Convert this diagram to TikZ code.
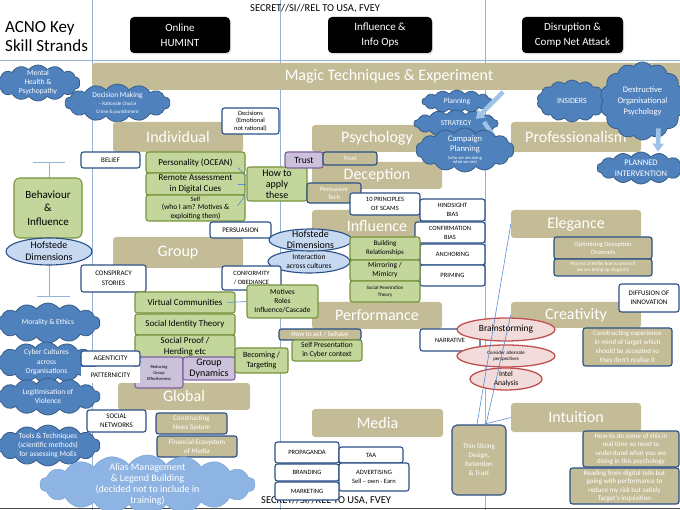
\documentclass[tikz,border=0pt]{standalone}
\usepackage{fontspec}
\setmainfont{Carlito}
\usetikzlibrary{shapes.symbols,shapes.geometric,arrows.meta,shadows}
\definecolor{tan}{HTML}{C4BC96}
\definecolor{dbl}{HTML}{2A4F86}
\definecolor{gfill}{HTML}{C3D69B}
\definecolor{gline}{HTML}{77933C}
\definecolor{pfill}{HTML}{CCC1DA}
\definecolor{pline}{HTML}{7F619E}
\definecolor{cfill}{HTML}{4F81BD}
\definecolor{cline}{HTML}{385D8A}
\definecolor{lcfill}{HTML}{8EB4E3}
\definecolor{lcline}{HTML}{7EA6D8}
\definecolor{efill}{HTML}{C6D9F1}
\definecolor{pkfill}{HTML}{F2DCDB}
\definecolor{pkline}{HTML}{C0504D}
\definecolor{gridc}{HTML}{95B3D7}
\definecolor{connc}{HTML}{5B8BD0}
\definecolor{arrc}{HTML}{9DC3E6}
\newcommand\fsz[2]{\fontsize{#1}{#2}\selectfont}
\newcommand\bx[7]{\node[base,#1,minimum width={((#5)-(#3))*1pt},minimum height={((#6)-(#4))*1pt}] (#2) at ({((#3)+(#5))/2},{((#4)+(#6))/2}) {#7};}
\newcommand\shp[8]{\node[#1,minimum width={((#6)-(#4))*1pt},minimum height={((#7)-(#5))*1pt},inner sep=0pt,label={[align=center,inner sep=0pt,#2]center:{#8}}] (#3) at ({((#4)+(#6))/2},{((#5)+(#7))/2}) {};}
\begin{document}
\begin{tikzpicture}[x=1pt,y=-1pt,
 base/.style={inner sep=0.5pt, align=center, text=black},
 tb/.style={fill=tan, rounded corners=3pt, text=white, font=\fsz{16}{18}},
 kb/.style={fill=tan, draw=dbl, line width=1.1pt, rounded corners=2.5pt, text=white},
 wb/.style={fill=white, draw=dbl, line width=1.1pt, rounded corners=2.5pt},
 gb/.style={fill=gfill, draw=gline, line width=1.1pt, rounded corners=2.5pt},
 pb/.style={fill=pfill, draw=pline, line width=1.1pt, rounded corners=2.5pt},
 hb/.style={fill=black, rounded corners=4pt, text=white, font=\fsz{11}{15}, drop shadow={shadow xshift=1pt,shadow yshift=-1.5pt,opacity=0.25}},
 bc/.style={cloud, cloud puffs=14, cloud puff arc=110, cloud ignores aspect, fill=cfill, draw=cline, line width=0.8pt},
 lc/.style={cloud, cloud puffs=18, cloud puff arc=110, cloud ignores aspect, fill=lcfill, draw=lcline, line width=0.6pt},
 he/.style={ellipse, fill=efill, draw=dbl, line width=1.1pt},
 pk/.style={ellipse, fill=pkfill, draw=pkline, line width=1.3pt},
 gridl/.style={draw=gridc, line width=0.7pt},
 conn/.style={draw=connc, line width=0.6pt},
 barrow/.style={draw=arrc, line width=4.5pt, -{Triangle[length=8pt,width=11pt]}},
 wt/.style={text=white}, bt/.style={text=black}
]
\useasboundingbox (0,0) rectangle (680,510);
% grid lines
\draw[gridl] (92,0) -- (92,510);
\draw[gridl] (280,0) -- (280,510);
\draw[gridl] (485,0) -- (485,510);
\draw[gridl] (0,60) -- (680,60);
\draw[gridl] (33,162) -- (65,162);
\draw[gridl] (49,162) -- (49,296);
\draw[gridl] (37,296) -- (70,296);
\draw[line width=1.2pt, black!70] (0,508.5) -- (680,508.5);
% header
\node[anchor=base west,inner sep=0,font=\fsz{17}{20}] (acnoa) at (5,33) {ACNO Key};
\node[anchor=base west,inner sep=0,font=\fsz{17}{20}] (acnob) at (5,52) {Skill Strands};
\node[anchor=base west,inner sep=0,font=\fsz{10.5}{12}] (sectop) at (250,12) {SECRET//SI//REL TO USA, FVEY};
\node[anchor=base west,inner sep=0,font=\fsz{10.5}{12}] (secbot) at (261,503) {SECRET//SI//REL TO USA, FVEY};
\bx{hb}{hum}{130}{17}{230}{53}{Online\\HUMINT}
\bx{hb}{iops}{328}{17}{432}{53}{Influence \&\\Info Ops}
\bx{hb}{cna}{522}{17}{623}{53}{Disruption \&\\Comp Net Attack}
\bx{tb}{magic}{92}{63}{686}{90}{Magic Techniques \& Experiment}
% left clouds
\shp{bc}{wt,font=\fsz{7.5}{9}}{mental}{-4}{65}{80}{101}{Mental\\Health \&\\Psychopathy}
\shp{bc}{wt,font=\fsz{7.5}{9}}{decm}{65}{84}{170}{122}{Decision Making\\[-1pt]{\fsz{5}{6}-- Rationale Choice}\\[-1pt]{\fsz{5}{6}Crime \& punishment}}
\shp{bc}{wt,font=\fsz{7.5}{9}}{moral}{-4}{303}{100}{343}{Morality \& Ethics}
\shp{bc}{wt,font=\fsz{7.5}{9.5}}{cyber}{-4}{342}{97}{383}{Cyber Cultures\\across\\Organisations}
\shp{bc}{wt,font=\fsz{7.5}{9.5}}{legit}{-4}{378}{100}{415}{Legitimisation of\\Violence}
\shp{bc}{wt,font=\fsz{7.5}{9}}{tools}{-4}{425}{100}{466}{Tools \& Techniques\\(scientific methods)\\for assessing MoEs}
% strand banners
\bx{tb}{indiv}{113}{122}{243}{152}{Individual}
\bx{tb}{group}{113}{237}{243}{268}{Group}
\bx{tb}{global}{118}{383}{250}{410}{Global}
\bx{tb}{psych}{312}{125}{442}{152}{Psychology}
\bx{tb}{decep}{312}{162}{442}{189}{Deception}
\bx{tb}{infl}{312}{210}{442}{242}{Influence}
\bx{tb}{perf}{312}{302}{442}{329}{Performance}
\bx{tb}{media}{312}{409}{443}{437}{Media}
\bx{tb}{prof}{511}{122}{641}{152}{Professionalism}
\bx{tb}{eleg}{511}{210}{641}{238}{Elegance}
\bx{tb}{creat}{511}{302}{641}{328}{Creativity}
\bx{tb}{intu}{511}{403}{641}{432}{Intuition}
\bx{wb,font=\fsz{6.5}{7.5}}{decis}{222}{108}{279}{134}{Decisions\\(Emotional\\not rational)}
% behaviour
\bx{gb,font=\fsz{11}{13.5},rounded corners=6pt}{behav}{14}{178}{82}{238}{Behaviour\\\&\\Influence}
\shp{he}{font=\fsz{10}{12}}{hofa}{6}{238}{92}{265}{Hofstede\\Dimensions}
% individual
\bx{wb,font=\fsz{7}{8}}{belief}{81}{152}{140}{168}{BELIEF}
\bx{gb,font=\fsz{9}{11}}{pers}{146}{152}{245}{173}{Personality (OCEAN)}
\bx{gb,font=\fsz{9}{11.5}}{remote}{146}{173}{245}{195}{Remote Assessment\\in Digital Cues}
\bx{gb,font=\fsz{7.5}{8.5}}{self}{146}{195}{245}{221}{{\fsz{6.5}{7}Self}\\(who I am? Motives \&\\exploiting them)}
\bx{gb,font=\fsz{10}{11}}{howto}{247}{167}{307}{201}{How to\\apply\\these}
\bx{wb,font=\fsz{7}{8}}{persu}{210}{222}{271}{238}{PERSUASION}
\bx{pb,font=\fsz{9.5}{11}}{trustp}{285}{152}{323}{168}{Trust}
\bx{kb,font=\fsz{6.5}{7.5}}{trustk}{323}{152}{377}{165}{Trust}
\bx{kb,font=\fsz{6.5}{8}}{ptech}{307}{183}{361}{203}{Persuasive\\Tech}
\bx{wb,font=\fsz{6.5}{9}}{scams}{350}{193}{420}{215}{10 PRINCIPLES\\OF SCAMS}
\bx{wb,font=\fsz{6.5}{9}}{hind}{420}{199}{485}{221}{HINDSIGHT\\BIAS}
\bx{wb,font=\fsz{6.5}{9}}{confb}{415}{222}{485}{243}{CONFIRMATION\\BIAS}
\bx{wb,font=\fsz{6.5}{9}}{anch}{420}{244}{485}{265}{ANCHORING}
\bx{wb,font=\fsz{6.5}{9}}{prim}{420}{265}{485}{286}{PRIMING}
\shp{he}{font=\fsz{7.5}{9}}{inter}{268}{250}{350}{273}{Interaction\\across cultures}
\shp{he}{font=\fsz{10}{11}}{hofb}{269}{229}{352}{251}{Hofstede\\Dimensions}
\bx{gb,font=\fsz{7}{9}}{build}{350}{237}{420}{260}{Building\\Relationships}
\bx{gb,font=\fsz{7.5}{9}}{mirr}{350}{260}{420}{281}{Mirroring /\\Mimicry}
\bx{gb,font=\fsz{5}{7}}{socpen}{350}{281}{420}{302}{Social Penetration\\Theory}
% group
\bx{wb,font=\fsz{7}{10}}{consp}{81}{265}{146}{292}{CONSPIRACY\\STORIES}
\bx{wb,font=\fsz{6.5}{8.5}}{conf}{222}{266}{281}{290}{CONFORMITY\\/ OBEDIANCE}
\bx{gb,font=\fsz{7.5}{9}}{motiv}{247}{285}{318}{318}{Motives\\Roles\\Influence/Cascade}
\bx{gb,font=\fsz{9}{11}}{virt}{135}{292}{235}{313}{Virtual Communities}
\bx{gb,font=\fsz{9}{11}}{sit}{135}{314}{235}{335}{Social Identity Theory}
\bx{gb,font=\fsz{9}{11}}{sproof}{135}{335}{235}{358}{Social Proof /\\Herding etc}
\bx{pb,font=\fsz{4.5}{6}}{reduc}{135}{357}{183}{388}{Reducing\\Group\\Effectiveness}
\bx{pb,font=\fsz{10}{11.5}}{gdyn}{183}{357}{235}{380}{Group\\Dynamics}
\bx{gb,font=\fsz{8}{10}}{becom}{235}{348}{288}{373}{Becoming /\\Targeting}
\bx{wb,font=\fsz{7}{8}}{agent}{81}{351}{140}{366}{AGENTICITY}
\bx{fill=white,font=\fsz{7}{8}}{patt}{81}{367}{140}{383}{PATTERNICITY}
% global
\bx{wb,font=\fsz{7}{9}}{socnet}{87}{410}{146}{432}{SOCIAL\\NETWORKS}
\bx{kb,font=\fsz{7}{9}}{news}{156}{413}{227}{434}{Constructing\\News System}
\bx{kb,font=\fsz{7}{9}}{fin}{157}{436}{237}{457}{Financial Ecosystem\\of Media}
\shp{lc}{wt,font=\fsz{10}{11}}{alias}{40}{455}{255}{514}{Alias Management\\\& Legend Building\\(decided not to include in\\training)}
% performance
\bx{kb,font=\fsz{7}{8}}{howact}{279}{329}{361}{340}{How to act / behave}
\bx{gb,font=\fsz{7.5}{9}}{selfp}{292}{340}{362}{361}{Self Presentation\\in Cyber context}
\bx{wb,font=\fsz{6.5}{8}}{narr}{420}{329}{480}{351}{NARRATIVE}
\shp{pk}{font=\fsz{9.5}{11}}{brain}{457}{318}{555}{341}{Brainstorming}
\shp{pk}{font=\fsz{5}{6.5}}{consid}{457}{345}{555}{367}{Consider alternate\\perspectives}
\shp{pk}{font=\fsz{7.5}{9}}{intel}{470}{368}{542}{390}{Intel\\Analysis}
% media
\bx{wb,font=\fsz{6.5}{8}}{prop}{275}{442}{339}{463}{PROPAGANDA}
\bx{wb,font=\fsz{6.5}{8}}{taa}{339}{447}{403}{463}{TAA}
\bx{wb,font=\fsz{6.5}{8}}{brand}{275}{464}{339}{481}{BRANDING}
\bx{wb,font=\fsz{6.5}{9}}{adv}{339}{463}{409}{491}{ADVERTISING\\Sell -- own - Earn}
\bx{wb,font=\fsz{6.5}{8}}{market}{275}{482}{339}{500}{MARKETING}
\bx{kb,font=\fsz{7}{9},rounded corners=5pt}{thin}{452}{425}{506}{495}{Thin Slicing\\Design,\\Retention\\\& Trust}
% right clouds
\shp{bc}{wt,font=\fsz{7.5}{9}}{plan}{422}{90}{492}{113}{Planning}
\shp{bc}{wt,font=\fsz{7.5}{9}}{strat}{414}{110}{498}{137}{STRATEGY}
\coordinate (a1s) at (503,92);
\coordinate (a1e) at (476,119);
\draw[barrow] (a1s) -- (a1e);
\coordinate (a2s) at (484,122);
\coordinate (a2e) at (500,146);
\draw[barrow] (a2s) -- (a2e);
\shp{bc}{wt,font=\fsz{8.5}{10.5}}{camp}{416}{128}{514}{172}{Campaign\\Planning\\[-3pt]{\fsz{4.5}{5}(who we are doing}\\[-6pt]{\fsz{4.5}{5}what we are)}}
\shp{bc}{wt,font=\fsz{8}{10}}{insid}{537}{80}{607}{122}{INSIDERS}
\shp{bc}{wt,font=\fsz{8.5}{11}}{destr}{600}{62}{685}{140}{Destructive\\Organisational\\Psychology}
\shp{bc}{wt,font=\fsz{8.5}{11}}{planned}{597}{152}{685}{184}{PLANNED\\INTERVENTION}
\draw[barrow] ([xshift=16pt,yshift=12pt]destr.south) -- ([xshift=17pt]planned.north);
% right boxes
\bx{kb,font=\fsz{6.5}{8}}{optim}{554}{237}{652}{259}{Optimising Deception\\Channels}
\bx{kb,font=\fsz{5}{6}}{proc}{554}{259}{652}{276}{Process of Reflection to assess if\\we are doing op elegantly}
\bx{wb,font=\fsz{7}{9}}{diff}{619}{284}{679}{312}{DIFFUSION OF\\INNOVATION}
\bx{kb,font=\fsz{7}{9}}{constr}{583}{328}{672}{366}{Constructing experience\\in mind of target which\\should be accepted so\\they don't realise it}
\bx{kb,font=\fsz{7}{8.5}}{realt}{583}{431}{679}{467}{How to do some of this in\\real time so need to\\understand what you are\\doing in this psychology}
\bx{kb,font=\fsz{7}{8.5}}{readg}{570}{468}{679}{504}{Reading from digital tells but\\going with performance to\\reduce my risk but satisfy\\Target's inquisition}
% connectors
\draw[conn] ([xshift=-8pt,yshift=-5pt]pers.east) -- ([yshift=8pt]howto.west);
\draw[conn] ([xshift=-8pt]remote.east) -- (howto.west);
\draw[conn] ([xshift=-8pt,yshift=2pt]self.east) -- ([yshift=-10pt]howto.west);
\draw[conn] ([xshift=-8pt]virt.east) -- (motiv.west);
\draw[conn] (eleg.west) -- ([xshift=-2pt]thin.north);
\draw[conn] (creat.west) -- ([xshift=7pt]thin.north);
\draw[conn] (intu.west) -- ([xshift=4pt]thin.north);
\end{tikzpicture}
\end{document}
